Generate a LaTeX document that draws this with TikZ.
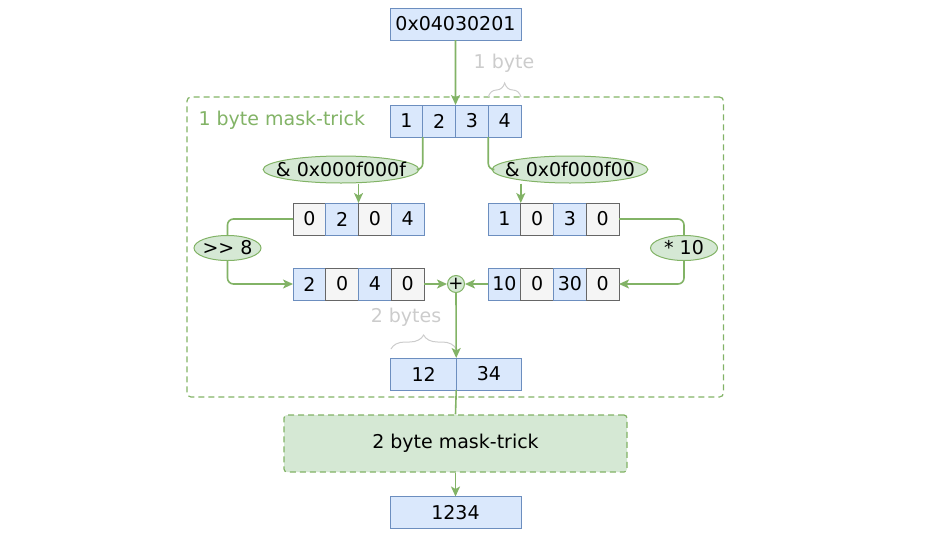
\documentclass[tikz,border=0pt]{standalone}
\usepackage{fontspec}
\setmainfont{DejaVu Sans}
\usetikzlibrary{positioning,shapes.geometric,decorations.pathreplacing,arrows.meta}
\definecolor{bluefill}{HTML}{DAE8FC}
\definecolor{blueline}{HTML}{6C8EBF}
\definecolor{grayfill}{HTML}{F5F5F5}
\definecolor{grayline}{HTML}{666666}
\definecolor{greenfill}{HTML}{D5E8D4}
\definecolor{greenline}{HTML}{82B366}
\definecolor{notegray}{HTML}{CCCCCC}

\begin{document}
\begin{tikzpicture}[%
		x=1pt, y=-1pt,
		>={Stealth[length=10pt, width=9pt, inset=2.5pt]},
		node distance=0pt,
		font=\fontsize{19}{22}\selectfont,
		bytebox/.style={%
			draw=blueline,
			fill=bluefill,
			line width=1pt,
			minimum width=32.75pt,
			minimum height=32pt,
			inner sep=0pt,
			outer sep=0pt
		},
		zerobox/.style={bytebox, draw=grayline, fill=grayfill},
		wordbox/.style={bytebox, minimum width=131pt},
		maskop/.style={%
			ellipse,
			draw=greenline,
			fill=greenfill,
			line width=1pt,
			inner sep=0pt,
			minimum height=27pt
		},
		stage/.style={%
			draw=greenline,
			line width=1.2pt,
			dash pattern=on 6pt off 4pt,
			rounded corners=4pt
		},
		flow/.style={draw=greenline, line width=1.6pt, rounded corners=6pt},
		note/.style={text=notegray},
		nbrace/.style={draw=notegray, line width=1pt, decorate, decoration={brace, amplitude=14pt}}
		]
		\useasboundingbox (0,0) rectangle (949,533);
		
		% 1 byte stage
		\node[stage, minimum width=536.5pt, minimum height=300pt] (trick1) at (455.25,247) {};
		\node[text=greenline, anchor=west] (title1) at (195,120) {1 byte mask-trick};
		
		\node[wordbox] (word) at (455.5,24)           {0x04030201};
		\node[bytebox] (b1) at (406.4,121)            {1};
		\node[bytebox, right=of b1] (b2)              {2};
		\node[bytebox, right=of b2] (b3)              {3};
		\node[bytebox, right=of b3] (b4)              {4};
		\node[note] (onebyte) at (504,63)             {1 byte};
		\draw[nbrace] ([yshift=8pt]b4.north west) -- ([yshift=8pt]b4.north east);
		
		\node[maskop, minimum width=148pt, inner xsep=-10pt] (andlo) at (341,169.5) {\& 0x000f000f};
		\node[maskop, minimum width=148pt, inner xsep=-10pt] (andhi) at (570,169.5) {\& 0x0f000f00};
		
		\node[zerobox] (lo1) at (309.4,219)           {0};
		\node[bytebox, right=of lo1] (lo2)            {2};
		\node[zerobox, right=of lo2] (lo3)            {0};
		\node[bytebox, right=of lo3] (lo4)            {4};
		\node[bytebox] (hi1) at (504.4,219)           {1};
		\node[zerobox, right=of hi1] (hi2)            {0};
		\node[bytebox, right=of hi2] (hi3)            {3};
		\node[zerobox, right=of hi3] (hi4)            {0};
		
		\node[maskop, minimum width=67pt, minimum height=25pt, inner xsep=-2pt] (shift) at (227.5,248) {>{}> 8};
		\node[maskop, minimum width=67pt, minimum height=25pt] (scale) at (684,248)   {* 10};
		
		\node[bytebox] (slo1) at (309.4,284)          {2};
		\node[zerobox, right=of slo1] (slo2)          {0};
		\node[bytebox, right=of slo2] (slo3)          {4};
		\node[zerobox, right=of slo3] (slo4)          {0};
		\node[bytebox] (shi1) at (504.4,284)          {10};
		\node[zerobox, right=of shi1] (shi2)          {0};
		\node[bytebox, right=of shi2] (shi3)          {30};
		\node[zerobox, right=of shi3] (shi4)          {0};
		
		\node[circle, draw=greenline, fill=greenfill, line width=1pt, minimum size=17pt, inner sep=-3.5pt,
		      font=\fontsize{18}{18}\selectfont] (plus) at (456,284) {+};
		
		\node[note] (twobytes) at (406,317)           {2 bytes};
		\node[bytebox, minimum width=65.25pt] (sum1) at (423.6,374) {12};
		\node[bytebox, minimum width=65.25pt, right=of sum1] (sum2) {34};
		\draw[nbrace] ([yshift=9pt]sum1.north west) -- ([yshift=9pt]sum1.north east);
		
		% 2 byte stage
		\node[stage, fill=greenfill, rounded corners=3pt, minimum width=343pt, minimum height=57pt] (trick2) at (455.5,443.5) {2 byte mask-trick};
		\node[wordbox] (res) at (455.5,512.5)         {1234};
		
		\draw[flow, ->] (word) -- (b3.north west);
		\draw[flow] (b2.south west) |- (andlo.east);
		\draw[flow] (b4.south west) |- (andhi.west);
		\draw[flow, ->] (andlo.south -| lo3.north west) -- (lo3.north west);
		\draw[flow, ->] (andhi.south -| hi2.north west) -- (hi2.north west);
		\draw[flow] (lo1.west) -| (shift.north);
		\draw[flow, ->] (shift.south) |- (slo1.west);
		\draw[flow] (hi4.east) -| (scale.north);
		\draw[flow, ->] (scale.south) |- (shi4.east);
		\draw[flow, ->] (slo4.east) -- (plus.west);
		\draw[flow, ->] (shi1.west) -- (plus.east);
		\draw[flow, ->] (plus.south) -- (sum1.north east);
		\draw[flow] (sum1.south east) -- (trick2.north);
		\draw[flow, ->] (trick2.south) -- (res.north);
		\end{tikzpicture}
\end{document}
